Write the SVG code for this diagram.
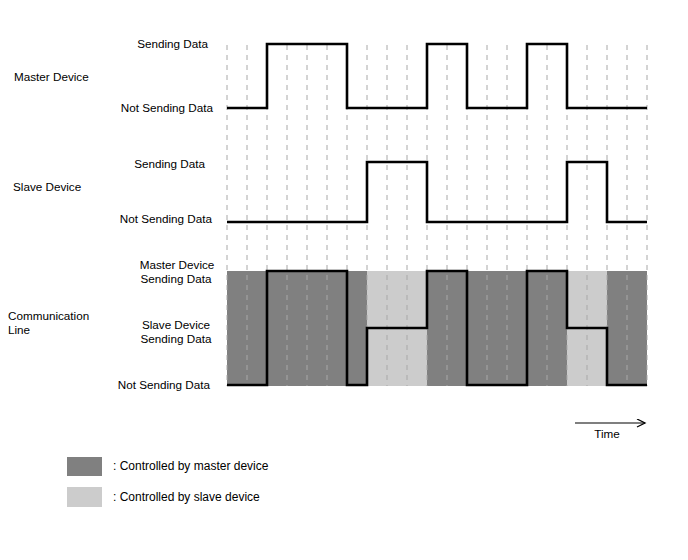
<svg xmlns="http://www.w3.org/2000/svg" width="688" height="560" viewBox="0 0 688 560">
<style>
text{font-family:"Liberation Sans",Arial,sans-serif;font-size:11.7px;fill:#000}
.r{text-anchor:end}
.c{text-anchor:middle}
.lg{font-size:12px}
.grid line{stroke:#a8a8a8;stroke-width:1;stroke-dasharray:5,5}
.wave{fill:none;stroke:#000;stroke-width:2.6;stroke-linejoin:miter}
.m{fill:#808080}
.s{fill:#cccccc}
</style>
<defs>
<marker id="arr" markerWidth="12" markerHeight="12" refX="9" refY="4" orient="auto" markerUnits="userSpaceOnUse">
<path d="M1,0 L9,4 L1,8" fill="none" stroke="#000" stroke-width="1.3"/>
</marker>
</defs>
<rect width="688" height="560" fill="#fff"/>

<g id="comm-shading">
<rect class="m" x="227" y="271" width="140" height="115"/>
<rect class="s" x="367" y="271" width="60" height="115"/>
<rect class="m" x="427" y="271" width="140" height="115"/>
<rect class="s" x="567" y="271" width="40" height="115"/>
<rect class="m" x="607" y="271" width="40" height="115"/>
</g>

<g class="grid" id="grid">
<line x1="227" y1="45" x2="227" y2="386"/>
<line x1="247" y1="45" x2="247" y2="386"/>
<line x1="267" y1="45" x2="267" y2="386"/>
<line x1="287" y1="45" x2="287" y2="386"/>
<line x1="307" y1="45" x2="307" y2="386"/>
<line x1="327" y1="45" x2="327" y2="386"/>
<line x1="347" y1="45" x2="347" y2="386"/>
<line x1="367" y1="45" x2="367" y2="386"/>
<line x1="387" y1="45" x2="387" y2="386"/>
<line x1="407" y1="45" x2="407" y2="386"/>
<line x1="427" y1="45" x2="427" y2="386"/>
<line x1="447" y1="45" x2="447" y2="386"/>
<line x1="467" y1="45" x2="467" y2="386"/>
<line x1="487" y1="45" x2="487" y2="386"/>
<line x1="507" y1="45" x2="507" y2="386"/>
<line x1="527" y1="45" x2="527" y2="386"/>
<line x1="547" y1="45" x2="547" y2="386"/>
<line x1="567" y1="45" x2="567" y2="386"/>
<line x1="587" y1="45" x2="587" y2="386"/>
<line x1="607" y1="45" x2="607" y2="386"/>
<line x1="627" y1="45" x2="627" y2="386"/>
<line x1="647" y1="45" x2="647" y2="386"/>
</g>

<g id="connectors">
<path id="master-wave" class="wave" d="M227,108 H267 V44 H347 V108 H427 V44 H467 V108 H527 V44 H567 V108 H647"/>
<path id="slave-wave" class="wave" d="M227,222 H367 V162 H427 V222 H567 V162 H607 V222 H647"/>
<path id="comm-wave" class="wave" d="M227,385 H267 V271 H347 V385 H367 V328 H427 V271 H467 V385 H527 V271 H567 V328 H607 V385 H647"/>
<line id="time-arrow" x1="575" y1="423" x2="645" y2="423" stroke="#000" stroke-width="1.2" marker-end="url(#arr)"/>
</g>

<g id="master-labels">
<text x="14" y="81">Master Device</text>
<text class="r" x="208" y="48">Sending Data</text>
<text class="r" x="213" y="112">Not Sending Data</text>
</g>

<g id="slave-labels">
<text x="13" y="191">Slave Device</text>
<text class="r" x="205" y="168">Sending Data</text>
<text class="r" x="212" y="223">Not Sending Data</text>
</g>

<g id="comm-labels">
<text x="8" y="320">Communication</text>
<text x="8" y="334">Line</text>
<text class="c" x="177" y="269">Master Device</text>
<text class="c" x="176" y="283">Sending Data</text>
<text class="c" x="176" y="329">Slave Device</text>
<text class="c" x="176" y="343">Sending Data</text>
<text class="r" x="210" y="389">Not Sending Data</text>
</g>

<g id="time-label">
<text class="c" x="607" y="438">Time</text>
</g>

<g id="legend-master">
<rect class="m" x="67" y="457" width="35" height="19"/>
<text class="lg" x="113" y="470">: Controlled by master device</text>
</g>
<g id="legend-slave">
<rect class="s" x="67" y="487" width="35" height="20"/>
<text class="lg" x="113" y="501">: Controlled by slave device</text>
</g>
</svg>
